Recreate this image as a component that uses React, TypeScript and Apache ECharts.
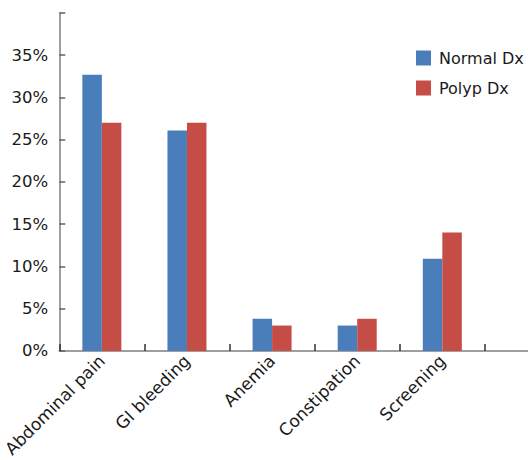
import React, { useEffect, useRef } from "react";
import * as echarts from "echarts";

const categories = ["Abdominal pain", "GI bleeding", "Anemia", "Constipation", "Screening", ""];
const normalDx = [32.7, 26.1, 3.8, 3.0, 10.9, null];
const polypDx = [27.0, 27.0, 3.0, 3.8, 14.0, null];
const seriesNames = ["Normal Dx", "Polyp Dx"];

export default function App() {
  const ref = useRef<HTMLDivElement>(null);
  useEffect(() => {
    if (!ref.current) return;
    const chart = echarts.init(ref.current, undefined, { renderer: "svg" });
    const font = "DejaVu Sans";
    chart.setOption({
      animation: false,
      textStyle: { fontFamily: font },
      grid: { left: 56, right: 0, top: 13, bottom: 108, containLabel: false },
      legend: {
        orient: "vertical",
        left: 411,
        top: 45,
        itemWidth: 15,
        itemHeight: 15,
        itemGap: 14,
        icon: "rect",
        textStyle: { fontSize: 16, color: "#1a1a1a", fontFamily: font, lineHeight: 16, padding: [0, 0, 0, 3] },
        data: seriesNames,
      },
      xAxis: {
        type: "category",
        data: categories,
        axisLine: { show: true, lineStyle: { color: "#7f7f7f", width: 1.5 } },
        axisTick: { show: true, inside: true, length: 7, lineStyle: { color: "#303030", width: 1.5 } },
        axisLabel: {
          rotate: 45,
          fontSize: 17,
          color: "#1a1a1a",
          fontFamily: font,
          margin: 7,
          interval: 0,
          padding: [0, 0, 0, 0],
        },
      },
      yAxis: {
        type: "value",
        min: 0,
        max: 40,
        interval: 5,
        splitLine: { show: false },
        axisLine: { show: true, lineStyle: { color: "#7f7f7f", width: 1.5 } },
        axisTick: { show: true, inside: true, length: 6, lineStyle: { color: "#606060", width: 1.5 } },
        axisLabel: {
          fontSize: 16.5,
          color: "#1a1a1a",
          fontFamily: font,
          margin: 11,
          formatter: (v: number) => (v === 40 ? "" : v + "%"),
        },
      },
      series: [
        {
          name: seriesNames[0],
          type: "bar",
          data: normalDx,
          barWidth: 19.5,
          barGap: "0%",
          itemStyle: { color: "#4a7ebb" },
        },
        {
          name: seriesNames[1],
          type: "bar",
          data: polypDx,
          barWidth: 19.5,
          barGap: "0%",
          itemStyle: { color: "#c64d46" },
        },
      ],
    });
    return () => chart.dispose();
  }, []);
  return (
    <div style={{ position: "absolute", left: 0, top: 0, width: 528, height: 460, overflow: "hidden" }}>
      <div ref={ref} style={{ width: 570, height: 460 }} />
    </div>
  );
}
